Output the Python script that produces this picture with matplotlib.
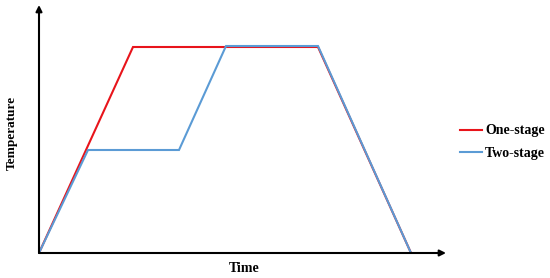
import matplotlib.pyplot as plt
from matplotlib.lines import Line2D

# arbitrary time / temperature units
one_time = [0, 94, 279, 372]
one_temp = [0, 206, 206, 0]
two_time = [0, 49, 140, 187, 279, 372]
two_temp = [0, 103, 103, 207, 207, 0]
series_names = ['One-stage', 'Two-stage']
colors = ['#e8141b', '#5b9bd5']

plt.rcParams['font.family'] = ['Liberation Serif', 'DejaVu Serif']

fig = plt.figure(figsize=(5.5, 2.78), dpi=100)
ax = fig.add_axes([39 / 550, 25 / 278, 407 / 550, 248 / 278])

ax.plot(one_time, one_temp, color=colors[0], lw=1.5, solid_joinstyle='miter')
ax.plot(two_time, two_temp, color=colors[1], lw=1.5, solid_joinstyle='miter')
ax.set_xlim(0, 407)
ax.set_ylim(0, 248)

for s in ax.spines.values():
    s.set_visible(False)
ax.set_xticks([])
ax.set_yticks([])

# arrow axes
arrow = dict(arrowstyle='-|>', color='black', lw=1.5, mutation_scale=9,
             shrinkA=0, shrinkB=0)
ax.annotate('', xy=(1, 0), xytext=(0, 0), xycoords='axes fraction', arrowprops=arrow)
ax.annotate('', xy=(0, 1), xytext=(0, 0), xycoords='axes fraction', arrowprops=arrow)

fig.text(12 / 550, 1 - 133 / 278, 'Temperature', rotation=90, ha='center', va='center',
         fontsize=9.5, fontweight='bold')
fig.text(244 / 550, 1 - 268 / 278, 'Time', ha='center', va='center',
         fontsize=10, fontweight='bold')

handles = [Line2D([], [], color=c, lw=1.5) for c in colors]
fig.legend(handles, series_names, loc='center left', bbox_to_anchor=(460 / 550, 1 - 142 / 278),
           frameon=False, prop={'weight': 'bold', 'size': 10}, handlelength=1.6,
           handletextpad=0.2, labelspacing=0.65, borderpad=0, borderaxespad=0)

fig.savefig('out.png', dpi=100)
